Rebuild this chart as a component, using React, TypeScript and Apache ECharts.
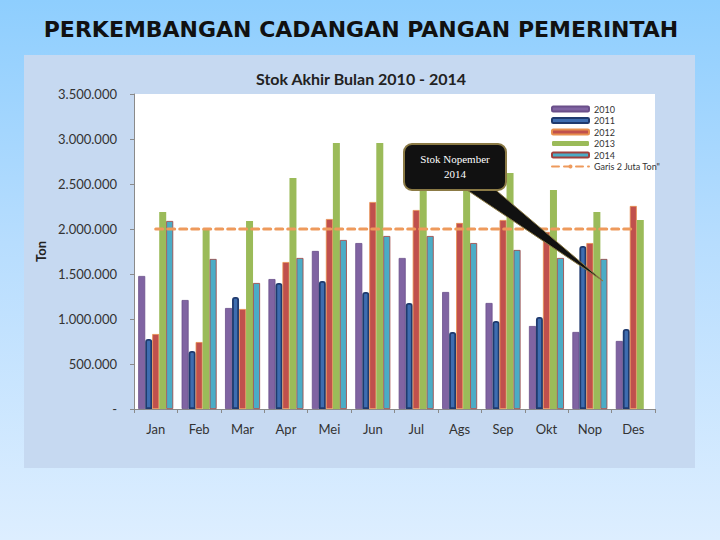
import React, { useEffect, useRef } from "react";
import * as echarts from "echarts";

const months = ["Jan", "Feb", "Mar", "Apr", "Mei", "Jun", "Jul", "Ags", "Sep", "Okt", "Nop", "Des"];
const s2010 = [1478000, 1211000, 1122000, 1444000, 1756000, 1844000, 1678000, 1300000, 1178000, 922000, 856000, 756000];
const s2011 = [778000, 644000, 1244000, 1400000, 1422000, 1300000, 1178000, 856000, 978000, 1022000, 1811000, 889000];
const s2012 = [833000, 744000, 1111000, 1633000, 2111000, 2300000, 2211000, 2067000, 2100000, 1967000, 1844000, 2256000];
const s2013 = [2189000, 2000000, 2089000, 2567000, 2956000, 2956000, 2650000, 2750000, 2622000, 2433000, 2189000, 2100000];
const s2014 = [2089000, 1667000, 1400000, 1678000, 1878000, 1922000, 1922000, 1844000, 1767000, 1678000, 1667000, null];
const garis = [2000000, 2000000, 2000000, 2000000, 2000000, 2000000, 2000000, 2000000, 2000000, 2000000, 2000000, 2000000];
const yTicks = { min: 0, max: 3500000, interval: 500000 };

function fmt(v: number): string {
  if (v === 0) return "-";
  return String(Math.round(v)).replace(/\B(?=(\d{3})+(?!\d))/g, ".");
}

export default function App() {
  const ref = useRef<HTMLDivElement>(null);
  useEffect(() => {
    if (!ref.current) return;
    const chart = echarts.init(ref.current, undefined, { renderer: "svg" });
    const bar = (name: string, data: (number | null)[], itemStyle: any) => ({
      name,
      type: "bar",
      data,
      barWidth: 7,
      barGap: "0%",
      itemStyle,
    });
    chart.setOption({
      animation: false,
      backgroundColor: "transparent",
      title: [
        {
          text: "PERKEMBANGAN CADANGAN PANGAN PEMERINTAH",
          left: 356,
          top: 13,
          textAlign: "center",
          textStyle: { fontFamily: "DejaVu Sans", fontWeight: "bold", fontSize: 22, color: "#111" },
        },
        {
          text: "Stok Akhir Bulan 2010 - 2014",
          left: 356,
          top: 65,
          textAlign: "center",
          textStyle: { fontFamily: "Lato", fontWeight: "bold", fontSize: 16, color: "#222" },
        },
      ],
      legend: {
        orient: "vertical",
        left: 546,
        top: 99,
        itemWidth: 37,
        itemHeight: 5,
        itemGap: 1.5,
        textStyle: { fontFamily: "Lato", fontSize: 9, color: "#333", lineHeight: 10 },
        data: ["2010", "2011", "2012", "2013", "2014", 'Garis 2 Juta Ton"'],
      },
      grid: {
        left: 134,
        right: 65,
        top: 94,
        bottom: 131,
        show: true,
        backgroundColor: "#ffffff",
        borderWidth: 0,
      },
      xAxis: {
        type: "category",
        data: months,
        axisLine: { show: true, lineStyle: { color: "#8a8a8a" } },
        axisTick: { show: true, length: 4, lineStyle: { color: "#8a8a8a" } },
        axisLabel: { fontFamily: "Lato", fontSize: 13, color: "#333", margin: 13 },
      },
      yAxis: {
        type: "value",
        min: yTicks.min,
        max: yTicks.max,
        interval: yTicks.interval,
        name: "Ton",
        nameLocation: "middle",
        nameRotate: 90,
        nameGap: 86,
        nameTextStyle: { fontFamily: "Lato", fontWeight: "bold", fontSize: 13, color: "#222" },
        axisLine: { show: true, lineStyle: { color: "#8a8a8a" } },
        axisTick: { show: true, length: 4, inside: false, lineStyle: { color: "#8a8a8a" } },
        splitLine: { show: false },
        axisLabel: { fontFamily: "Lato", fontSize: 13, color: "#333", margin: 17, formatter: (v: number) => fmt(v) },
      },
      series: [
        bar("2010", s2010, { color: "#8064A2", borderColor: "#6A4F8A", borderWidth: 0.8 }),
        bar("2011", s2011, { color: "#3E6DB0", borderColor: "#1F3A6E", borderWidth: 1.8, borderRadius: [2, 2, 0, 0] }),
        bar("2012", s2012, { color: "#C0504D", borderColor: "#E8904F", borderWidth: 0.8 }),
        bar("2013", s2013, { color: "#9BBB59" }),
        bar("2014", s2014, { color: "#4BACC6", borderColor: "#A0403D", borderWidth: 0.8 }),
        {
          name: 'Garis 2 Juta Ton"',
          type: "line",
          data: garis,
          symbol: "none",
          z: 5,
          lineStyle: { color: "#EE9A5C", width: 3, type: [7, 5], cap: "round" },
          itemStyle: { color: "#EE9A5C" },
        },
      ],
      graphic: [
        {
          type: "group",
          z: 100,
          children: [
            {
              type: "polygon",
              z: 100,
              shape: { points: [[461, 186], [491, 186], [603, 281]] },
              style: { fill: "#111111", stroke: "#8B7A45", lineWidth: 1 },
            },
            {
              type: "rect",
              z: 101,
              shape: { x: 404, y: 144, width: 102, height: 46, r: 8 },
              style: { fill: "#111111", stroke: "#8B7A45", lineWidth: 2 },
            },
            {
              type: "text",
              z: 102,
              x: 455,
              y: 166,
              style: {
                text: "Stok Nopember\n2014",
                fill: "#ffffff",
                font: "11px 'Liberation Serif'",
                align: "center",
                verticalAlign: "middle",
                lineHeight: 15,
              },
            },
          ],
        },
      ],
    });
    return () => chart.dispose();
  }, []);

  return (
    <div
      style={{
        position: "fixed",
        left: 0,
        top: 0,
        width: 720,
        height: 540,
        background: "linear-gradient(to bottom, #8ECEFE 0%, #B7DDFE 45%, #DDEEFF 100%)",
      }}
    >
      <div
        style={{
          position: "absolute",
          left: 24,
          top: 55,
          width: 671,
          height: 413,
          background: "#C6D9F1",
        }}
      />
      <div ref={ref} style={{ position: "absolute", left: 0, top: 0, width: 720, height: 540 }} />
    </div>
  );
}
